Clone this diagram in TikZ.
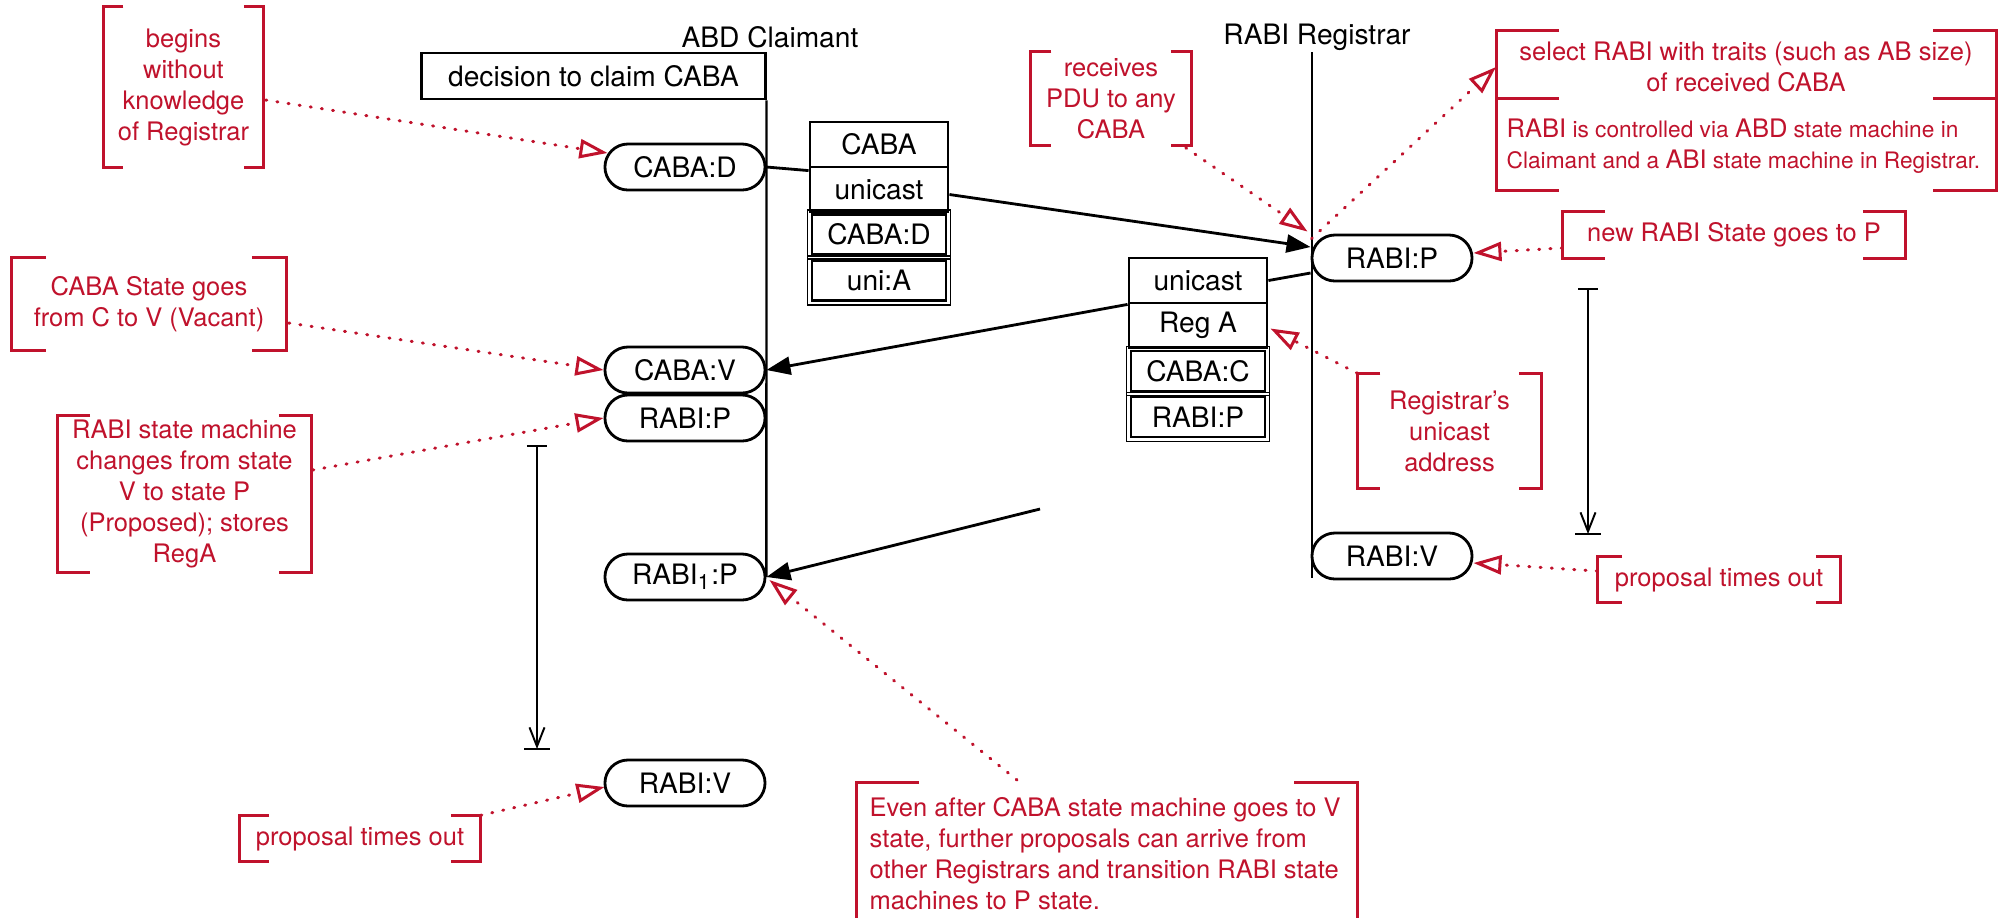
\documentclass[tikz,border=0pt]{standalone}
\usepackage{fontspec}
\setmainfont{TeX Gyre Heros}
\usetikzlibrary{arrows.meta,calc}
\definecolor{annred}{RGB}{192,18,44}
\newcommand\blkf{\fontsize{8pt}{9.6pt}\selectfont}
\newcommand\redf{\fontsize{7.25pt}{8.82pt}\selectfont}
\newcommand\smallredf{\fontsize{6.45pt}{8.82pt}\selectfont}
\newcommand\acr[1]{{\fontsize{7.25pt}{8.82pt}\selectfont #1}}
\newcommand\annbrk[2]{%
  \draw[brk] ($(#1.north west)+(#2,0)$) -- (#1.north west) -- (#1.south west) -- ($(#1.south west)+(#2,0)$);
  \draw[brk] ($(#1.north east)+(-#2,0)$) -- (#1.north east) -- (#1.south east) -- ($(#1.south east)+(-#2,0)$);}
\begin{document}
\begin{tikzpicture}[x=0.01cm,y=-0.01cm,
  state/.style={draw, line width=0.8pt, rounded corners=0.23cm, minimum width=1.6cm, minimum height=0.46cm, inner sep=0pt, fill=white, font=\blkf},
  lbl/.style={font=\blkf, inner sep=0pt},
  decbox/.style={draw, line width=0.8pt, minimum width=3.43cm, minimum height=0.46cm, inner sep=0pt, font=\blkf},
  msgrow/.style={draw, line width=0.8pt, minimum width=1.38cm, minimum height=0.45cm, inner sep=0pt, font=\blkf},
  dblrow/.style={draw, line width=0.8pt, minimum width=1.34cm, minimum height=0.40cm, inner sep=0pt, font=\blkf},
  dblout/.style={line width=0.4pt},
  life/.style={line width=0.7pt},
  msg/.style={line width=0.8pt, -{Triangle[length=0.24cm,width=0.18cm]}},
  link/.style={line width=0.8pt},
  timer/.style={line width=0.55pt, {Bar[width=0.2cm,line width=0.7pt]}-{Straight Barb[length=0.19cm,width=0.15cm,line width=0.55pt]}},
  timerend/.style={line width=0.7pt},
  annot/.style={inner sep=0pt, align=center, text=annred, font=\redf},
  brk/.style={draw=annred, line width=0.85pt},
  note/.style={draw=annred, line width=0.85pt, line cap=round, dash pattern=on 0.3pt off 2.9pt, -{Triangle[open,length=0.28cm,width=0.19cm,line width=0.85pt]}}
]
\fill[white] (0,0) rectangle (2005,917);
\useasboundingbox (0,0) rectangle (2005,917);

% lifeline labels and decision box
\node[lbl] (abdl) at (770,37) {ABD Claimant};
\node[lbl] (regl) at (1317,37) {RABI Registrar};
\node[decbox] (dec) at (593.5,76) {decision to claim CABA};

% registrar lifeline ends
\coordinate (regtop) at (1312,52);
\coordinate (regbot) at (1312,578);

% state nodes
\node[state] (cD) at (685,167) {CABA:D};
\node[state] (cV) at (685,370) {CABA:V};
\node[state] (cRP) at (685,418) {RABI:P};
\node[state] (cR1) at (685,577) {RABI\textsubscript{1}:P};
\node[state] (cRV) at (685,783) {RABI:V};
\node[state] (rP) at (1392,258) {RABI:P};
\node[state] (rV) at (1392,556) {RABI:V};

% lifelines
\draw[life] (dec.south east) -- (cR1.east);
\draw[life] (regtop) -- (regbot);

% message stack 1
\node[msgrow] (s1a) at (879,144.5) {CABA};
\node[msgrow] (s1b) at (879,189.5) {unicast};
\node[dblrow] (s1c) at (879,234.5) {CABA:D};
\node[dblrow] (s1d) at (879,280.5) {uni:A};
\draw[dblout] ($(s1c.south west)+(-3,3)$) rectangle ($(s1c.north east)+(3,-3)$);
\draw[dblout] ($(s1d.south west)+(-3,3)$) rectangle ($(s1d.north east)+(3,-3)$);

% message stack 2
\node[msgrow] (s2a) at (1198,280.5) {unicast};
\node[msgrow] (s2b) at (1198,325.5) {Reg A};
\node[dblrow] (s2c) at (1198,371) {CABA:C};
\node[dblrow] (s2d) at (1198,417) {RABI:P};
\draw[dblout] ($(s2c.south west)+(-3,3)$) rectangle ($(s2c.north east)+(3,-3)$);
\draw[dblout] ($(s2d.south west)+(-3,3)$) rectangle ($(s2d.north east)+(3,-3)$);

% messages
\draw[link] (cD.east) -- ($(s1b.north west)+(0,5)$);
\draw[msg] ($(s1b.east)+(0,5)$) -- ($(rP.west)+(0,-11)$);
\draw[link] ($(rP.west)+(0,15)$) -- (s2a.east);
\draw[msg] (s2a.south west) -- (cV.east);
\coordinate (m5) at (1040,509);
\draw[msg] (m5) -- (cR1.east);

% timers
\coordinate (t1a) at (537,445);
\coordinate (t1b) at (537,749);
\coordinate (t2a) at (1588,288);
\coordinate (t2b) at (1588,534);
\draw[timer] (t1a) -- (t1b);
\draw[timerend] ($(t1b)+(-13,0)$) -- ($(t1b)+(13,0)$);
\draw[timer] (t2a) -- (t2b);
\draw[timerend] ($(t2b)+(-13,0)$) -- ($(t2b)+(13,0)$);

% annotations
\node[annot, minimum width=1.59cm, minimum height=1.60cm] (a1) at (183.5,87) {begins\\without\\knowledge\\of Registrar};
\annbrk{a1}{20}
\node[annot, minimum width=2.74cm, minimum height=0.92cm] (a2) at (149,304) {CABA State goes\\from C to V (Vacant)};
\annbrk{a2}{35}
\node[annot, minimum width=2.53cm, minimum height=1.56cm] (a3) at (184.5,494) {RABI state machine\\changes from state\\V to state P\\(Proposed); stores\\RegA};
\annbrk{a3}{33}
\node[annot, minimum width=2.40cm, minimum height=0.45cm] (a4) at (360,838.5) {proposal times out};
\annbrk{a4}{30}
\node[annot, minimum width=1.60cm, minimum height=0.93cm] (a5) at (1111,98.5) {receives\\PDU to any\\CABA};
\annbrk{a5}{21}
\node[annot, minimum width=3.42cm, minimum height=0.46cm] (a7) at (1734,235) {new RABI State goes to P};
\annbrk{a7}{43}
\node[annot, minimum width=1.83cm, minimum height=1.14cm] (a8) at (1449.5,431) {Registrar’s\\unicast\\address};
\annbrk{a8}{23}
\node[annot, minimum width=2.42cm, minimum height=0.45cm] (a9) at (1719,579.5) {proposal times out};
\annbrk{a9}{25}

% select box
\draw[brk] (1559,30) -- (1496,30) -- (1496,190) -- (1559,190);
\draw[brk] (1496,98) -- (1559,98);
\draw[brk] (1933,30) -- (1996,30) -- (1996,190) -- (1933,190);
\draw[brk] (1933,98) -- (1996,98);
\node[annot] (a6t) at (1746,67) {select RABI with traits (such as AB size)\\of received CABA};
\node[annot, anchor=west, align=left, font=\smallredf] (a6b) at (1506,146) {\acr{RABI} is controlled via \acr{ABD} state machine in\\Claimant and a \acr{ABI} state machine in Registrar.};
\coordinate (a6in) at (1496,67);

% even-after box
\draw[brk] (919,782) -- (856,782) -- (856,925);
\draw[brk] (1294,782) -- (1357,782) -- (1357,925);
\node[annot, anchor=north west, align=left] (a10) at (869,797) {Even after CABA state machine goes to V\\state, further proposals can arrive from\\other Registrars and transition RABI state\\machines to P state.};
\coordinate (a10s) at (1017,780);

% annotation arrows
\draw[note] ($(a1.east)+(2,13)$) -- ($(cD.west)+(4,-14)$);
\draw[note] ($(a2.east)+(2,19)$) -- (cV.west);
\draw[note] ($(a3.east)+(1,-24)$) -- (cRP.west);
\draw[note] (a4.north east) -- ($(cRV.west)+(1,4)$);
\draw[note] ($(a5.south east)+(-6,2)$) -- ($(rP.north west)+(-3,-2)$);
\draw[note] ($(rP.north west)+(1,5)$) -- (a6in);
\draw[note] ($(a7.west)+(0,13)$) -- ($(rP.east)+(0,-5)$);
\draw[note] (a8.north west) -- ($(s2b.east)+(2,3)$);
\draw[note] ($(a9.west)+(0,-8.5)$) -- ($(rV.east)+(0,7)$);
\draw[note] (a10s) -- ($(cR1.east)+(3,3)$);
\end{tikzpicture}
\end{document}
